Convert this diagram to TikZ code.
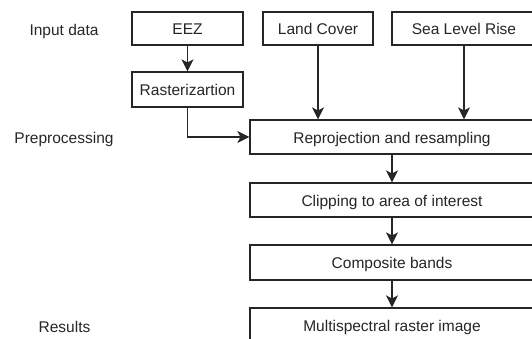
\documentclass[tikz,border=0pt]{standalone}
\usepackage{fontspec}
\setmainfont{Liberation Sans}
\usetikzlibrary{arrows.meta}
\begin{document}
\begin{tikzpicture}[x=1pt,y=1pt,
  txt/.style={inner sep=0pt,font=\fontsize{15.5}{17}\selectfont,text=black!85,text height=12.5pt,text depth=0.5pt},
  box/.style={txt,draw=black!85,line width=1.2pt,fill=white},
  lab/.style={txt},
  arr/.style={draw=black!85,line width=1.2pt,-{Stealth[length=12pt,width=12pt,inset=3pt]}}]
\useasboundingbox (0,0) rectangle (532,-338);
\node[lab] (l1) at (64,-29) {Input data};
\node[lab] (l2) at (64,-137) {Preprocessing};
\node[lab] (l3) at (64.5,-326) {Results};
\node[box,minimum width=111pt,minimum height=33pt] (eez) at (187.5,-28.5) {EEZ};
\node[box,minimum width=111pt,minimum height=35pt] (ras) at (187.5,-89.5) {Rasterizartion};
\node[box,minimum width=110pt,minimum height=33pt] (lc) at (318,-28.5) {Land Cover};
\node[box,minimum width=144pt,minimum height=33pt] (slr) at (464,-28.5) {Sea Level Rise};
\node[box,minimum width=284pt,minimum height=34pt] (rep) at (392,-137) {Reprojection and resampling};
\node[box,minimum width=284pt,minimum height=34pt] (clip) at (392,-200) {Clipping to area of interest};
\node[box,minimum width=284pt,minimum height=35pt] (comp) at (392,-262.5) {Composite bands};
\node[box,minimum width=284pt,minimum height=34pt] (multi) at (392,-325) {Multispectral raster image};
\draw[arr] (eez) -- (ras);
\draw[arr] (ras.south) |- (rep.west);
\draw[arr] (lc.south) -- (lc.south |- rep.north);
\draw[arr] (slr.south) -- (slr.south |- rep.north);
\draw[arr] (rep) -- (clip);
\draw[arr] (clip) -- (comp);
\draw[arr] (comp) -- (multi);
\end{tikzpicture}
\end{document}
